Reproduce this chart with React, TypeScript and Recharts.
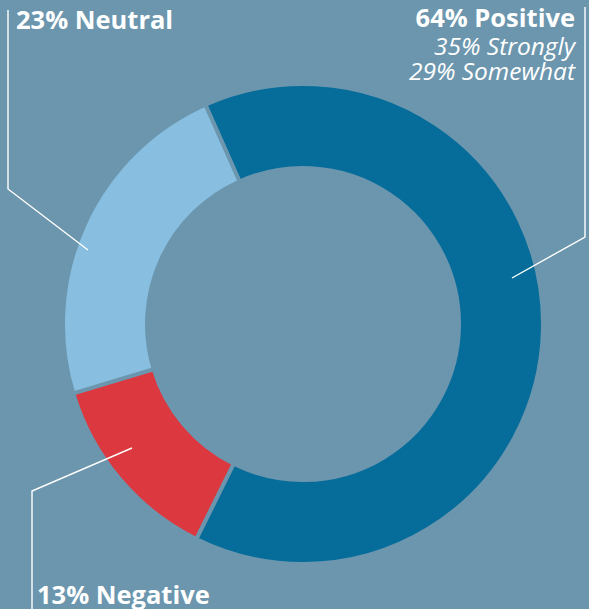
import { PieChart, Pie, Cell } from 'recharts';

const BG = '#6b96ae';
const WHITE = '#ffffff';

const categories = ['Positive', 'Negative', 'Neutral'];
const shares = [64, 13, 23];
const colors = ['#066d9b', '#dc383f', '#88bfe0'];
const positiveDetail = ['35% Strongly', '29% Somewhat'];

const data = categories.map((name, i) => ({ name, value: shares[i] }));

const FONT = "'Open Sans', 'Noto Sans', sans-serif";

export default function App() {
  return (
    <div style={{ position: 'absolute', left: 0, top: 0, width: 589, height: 609, background: BG, overflow: 'hidden' }}>
      <PieChart width={589} height={609} margin={{ top: 0, right: 0, bottom: 0, left: 0 }}>
        <Pie
          data={data}
          dataKey="value"
          cx={303}
          cy={324}
          innerRadius={156}
          outerRadius={240}
          startAngle={114}
          endAngle={114 - 360}
          stroke={BG}
          strokeWidth={4}
          isAnimationActive={false}
        >
          {data.map((d, i) => (
            <Cell key={d.name} fill={colors[i]} />
          ))}
        </Pie>
      </PieChart>
      {/* leader lines + labels */}
      <svg width={589} height={609} style={{ position: 'absolute', left: 0, top: 0, pointerEvents: 'none' }}>
        <polyline points="8,10 8,189 88,250" fill="none" stroke={WHITE} strokeWidth={1.4} />
        <polyline points="585,7 585,237 512,278" fill="none" stroke={WHITE} strokeWidth={1.4} />
        <polyline points="132,448 32,491 32,609" fill="none" stroke={WHITE} strokeWidth={1.4} />

        <text x={16} y={29} fill={WHITE} fontFamily={FONT} fontWeight={700} fontSize={25.5}>
          {`${shares[2]}% ${categories[2]}`}
        </text>
        <text x={575} y={27} fill={WHITE} fontFamily={FONT} fontWeight={700} fontSize={25.5} textAnchor="end">
          {`${shares[0]}% ${categories[0]}`}
        </text>
        <text x={575} y={54.5} fill={WHITE} fontFamily={FONT} fontStyle="italic" fontSize={24.5} textAnchor="end">
          {positiveDetail[0]}
        </text>
        <text x={575} y={80} fill={WHITE} fontFamily={FONT} fontStyle="italic" fontSize={24.5} textAnchor="end">
          {positiveDetail[1]}
        </text>
        <text x={37} y={604} fill={WHITE} fontFamily={FONT} fontWeight={700} fontSize={25.5}>
          {`${shares[1]}% ${categories[1]}`}
        </text>
      </svg>
    </div>
  );
}
